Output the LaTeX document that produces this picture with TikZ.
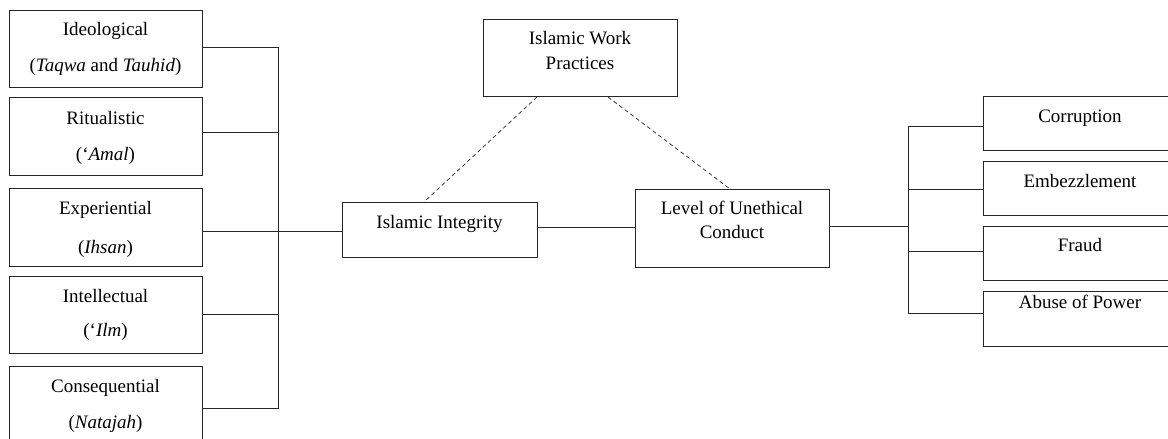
\documentclass[tikz,border=0pt]{standalone}
\usepackage{fontspec}
\setmainfont{Liberation Serif}
\begin{document}
\begin{tikzpicture}[x=1pt,y=-1pt,
  box/.style={draw=black!85,line width=1pt,rectangle,inner sep=0pt,anchor=north west},
  lbl/.style={inner sep=0pt,anchor=base,font=\fontsize{19}{23}\selectfont},
  conn/.style={draw=black!85,line width=1pt},
  dsh/.style={draw=black!85,line width=0.7pt,dash pattern=on 4pt off 3pt}]
\useasboundingbox (0,0) rectangle (1168,439);
% left boxes
\node[box,minimum width=193pt,minimum height=77pt] (b1) at (9,10) {};
\node[box,minimum width=193pt,minimum height=78pt] (b2) at (9,97) {};
\node[box,minimum width=193pt,minimum height=78pt] (b3) at (9,188) {};
\node[box,minimum width=193pt,minimum height=77pt] (b4) at (9,276) {};
\node[box,minimum width=193pt,minimum height=90pt] (b5) at (9,366) {};
\node[lbl] (t1a) at (105.5,35) {Ideological};
\node[lbl] (t1b) at (105.5,71) {(\textit{Taqwa} and \textit{Tauhid})};
\node[lbl] (t2a) at (105.5,124) {Ritualistic};
\node[lbl] (t2b) at (105.5,160) {(‘\textit{Amal})};
\node[lbl] (t3a) at (105.5,214) {Experiential};
\node[lbl] (t3b) at (105.5,253) {(\textit{Ihsan})};
\node[lbl] (t4a) at (105.5,302) {Intellectual};
\node[lbl] (t4b) at (105.5,336) {(‘\textit{Ilm})};
\node[lbl] (t5a) at (105.5,392) {Consequential};
\node[lbl] (t5b) at (105.5,428) {(\textit{Natajah})};
% bus left
\coordinate (lb1) at (278,47);
\coordinate (lb2) at (278,132);
\coordinate (lb3) at (278,231);
\coordinate (lb4) at (278,314);
\coordinate (lb5) at (278,408);
% middle boxes
\node[box,minimum width=195pt,minimum height=55pt] (ii) at (342,202) {};
\node[lbl] (tii) at (439.5,228) {Islamic Integrity};
\node[box,minimum width=194pt,minimum height=77pt] (iwp) at (483,19) {};
\node[lbl] (tiwpa) at (580,44) {Islamic Work};
\node[lbl] (tiwpb) at (580,69) {Practices};
\node[box,minimum width=194pt,minimum height=78pt] (luc) at (635,189) {};
\node[lbl] (tluca) at (732,214) {Level of Unethical};
\node[lbl] (tlucb) at (732,238) {Conduct};
% right boxes
\node[box,minimum width=194pt,minimum height=54pt] (r1) at (983,96) {};
\node[box,minimum width=194pt,minimum height=54pt] (r2) at (983,161) {};
\node[box,minimum width=194pt,minimum height=54pt] (r3) at (983,226) {};
\node[box,minimum width=194pt,minimum height=55pt] (r4) at (983,291) {};
\node[lbl] (tr1) at (1080,122) {Corruption};
\node[lbl] (tr2) at (1080,187) {Embezzlement};
\node[lbl] (tr3) at (1080,251) {Fraud};
\node[lbl] (tr4) at (1080,308) {Abuse of Power};
\coordinate (rb0) at (908,226);
\coordinate (rb1) at (908,126);
\coordinate (rb2) at (908,189);
\coordinate (rb3) at (908,251);
\coordinate (rb4) at (908,313);
% connectors left
\draw[conn] (lb1 -| b1.east) -- (lb1) -- (lb5) -- (lb5 -| b5.east);
\draw[conn] (lb2 -| b2.east) -- (lb2);
\draw[conn] (lb3 -| b3.east) -- (lb3 -| ii.west);
\draw[conn] (lb4 -| b4.east) -- (lb4);
% middle
\draw[conn] (ii.east |- 0,227) -- (luc.west |- 0,227);
\draw[conn] (luc.east |- rb0) -- (rb0);
\draw[conn] (rb1 -| r1.west) -- (rb1) -- (rb4) -- (rb4 -| r4.west);
\draw[conn] (rb2) -- (rb2 -| r2.west);
\draw[conn] (rb3) -- (rb3 -| r3.west);
% dashed
\draw[dsh] (iwp.south west) ++(54,0) coordinate (d1) (d1) -- (ii.north west -| 424,0);
\draw[dsh] (iwp.south west) ++(125,0) coordinate (d2) (d2) -- (luc.north west -| 730,0);
\end{tikzpicture}
\end{document}
